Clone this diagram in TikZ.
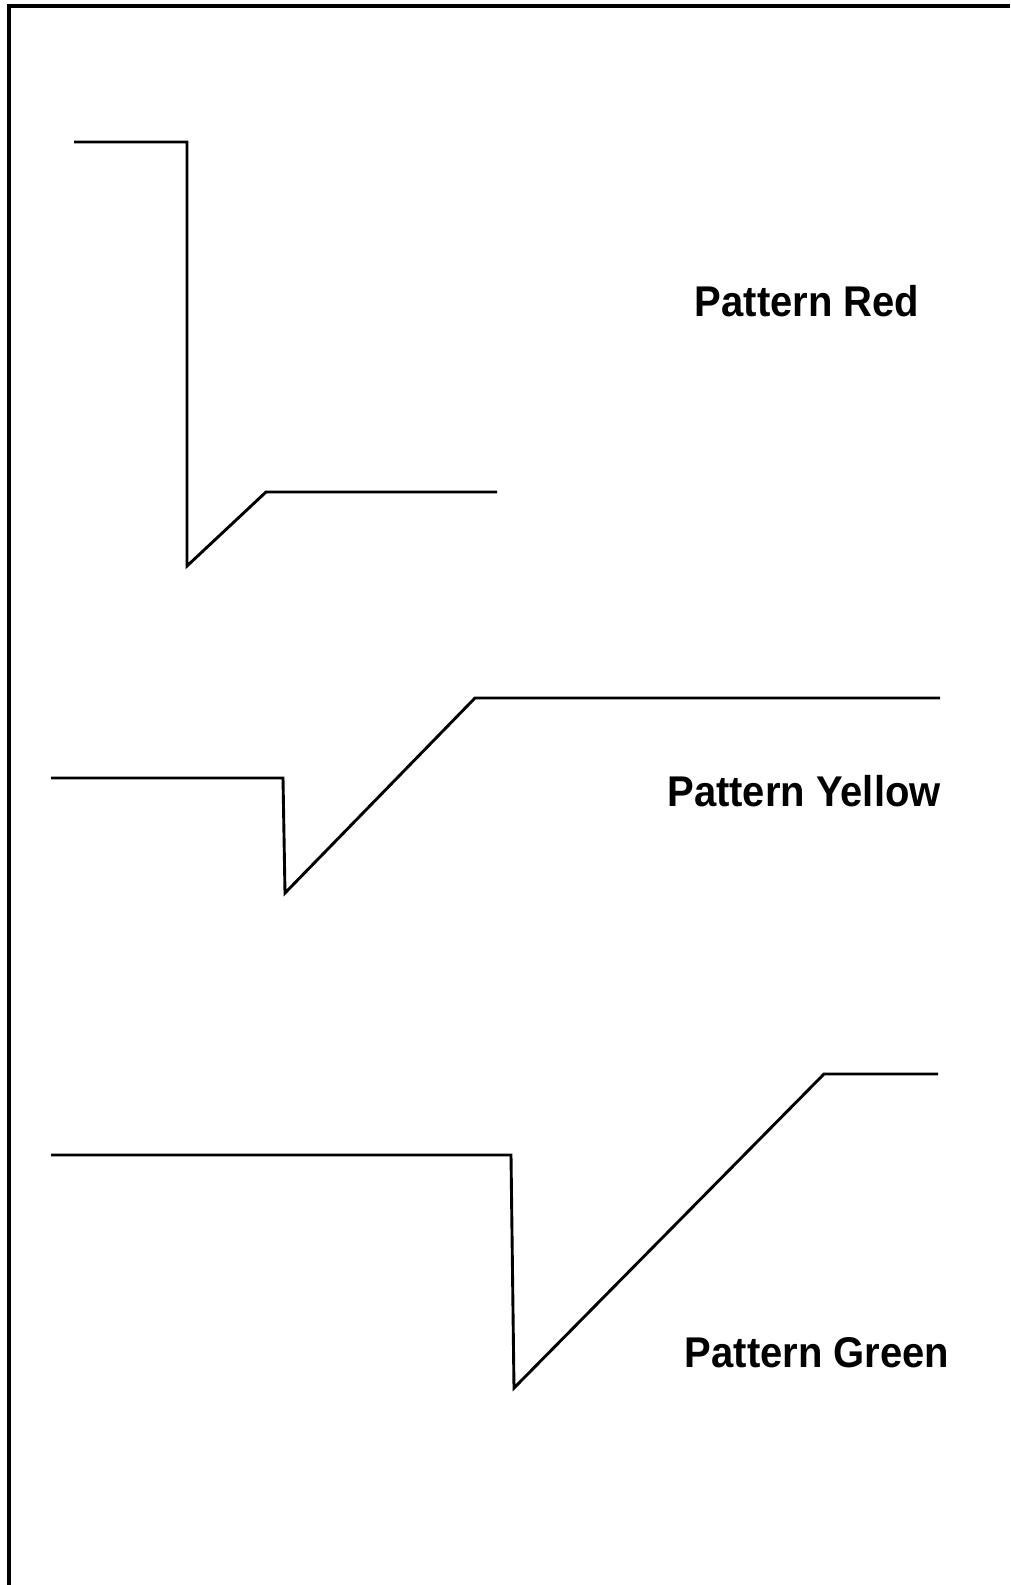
\documentclass[tikz,border=0pt]{standalone}
\usepackage{fontspec}
\setmainfont{Liberation Sans}
\usetikzlibrary{positioning}

\tikzset{
  trace/.style={line width=2.9pt, line join=miter},
  frame/.style={line width=4.5pt},
  pname/.style={font=\fontsize{43}{46}\selectfont\bfseries, inner sep=0pt}
}
\newcommand{\pnametext}[1]{\scalebox{0.93}[1]{#1}}

\begin{document}
\begin{tikzpicture}[x=1pt,y=-1pt]
\useasboundingbox (0,0) rectangle (1010,1585);
% frame, top and left side only
\coordinate (tl) at (9,6);
\draw[frame] (1010,6) -- (tl) -- (9,1585);

% red
\coordinate (r1) at (74,142);
\coordinate (r2) at (187,142);
\coordinate (r3) at (187,566);
\coordinate (r4) at (266,492);
\coordinate (r5) at (497,492);
\draw[trace] (r1)--(r2)--(r3)--(r4)--(r5);
\node[pname] (red) at (807,301) {\pnametext{Pattern Red}};

% yellow
\coordinate (y1) at (51,778);
\coordinate (y2) at (283,778);
\coordinate (y3) at (285,893);
\coordinate (y4) at (475,698);
\coordinate (y5) at (940,698);
\draw[trace] (y1)--(y2)--(y3)--(y4)--(y5);
\node[pname] (yellow) at (804,791) {\pnametext{Pattern Yellow}};

% green
\coordinate (g1) at (51,1155);
\coordinate (g2) at (511,1155);
\coordinate (g3) at (514,1388);
\coordinate (g4) at (824,1074);
\coordinate (g5) at (938,1074);
\draw[trace] (g1)--(g2)--(g3)--(g4)--(g5);
\node[pname] (green) at (817,1353) {\pnametext{Pattern Green}};
\end{tikzpicture}
\end{document}
